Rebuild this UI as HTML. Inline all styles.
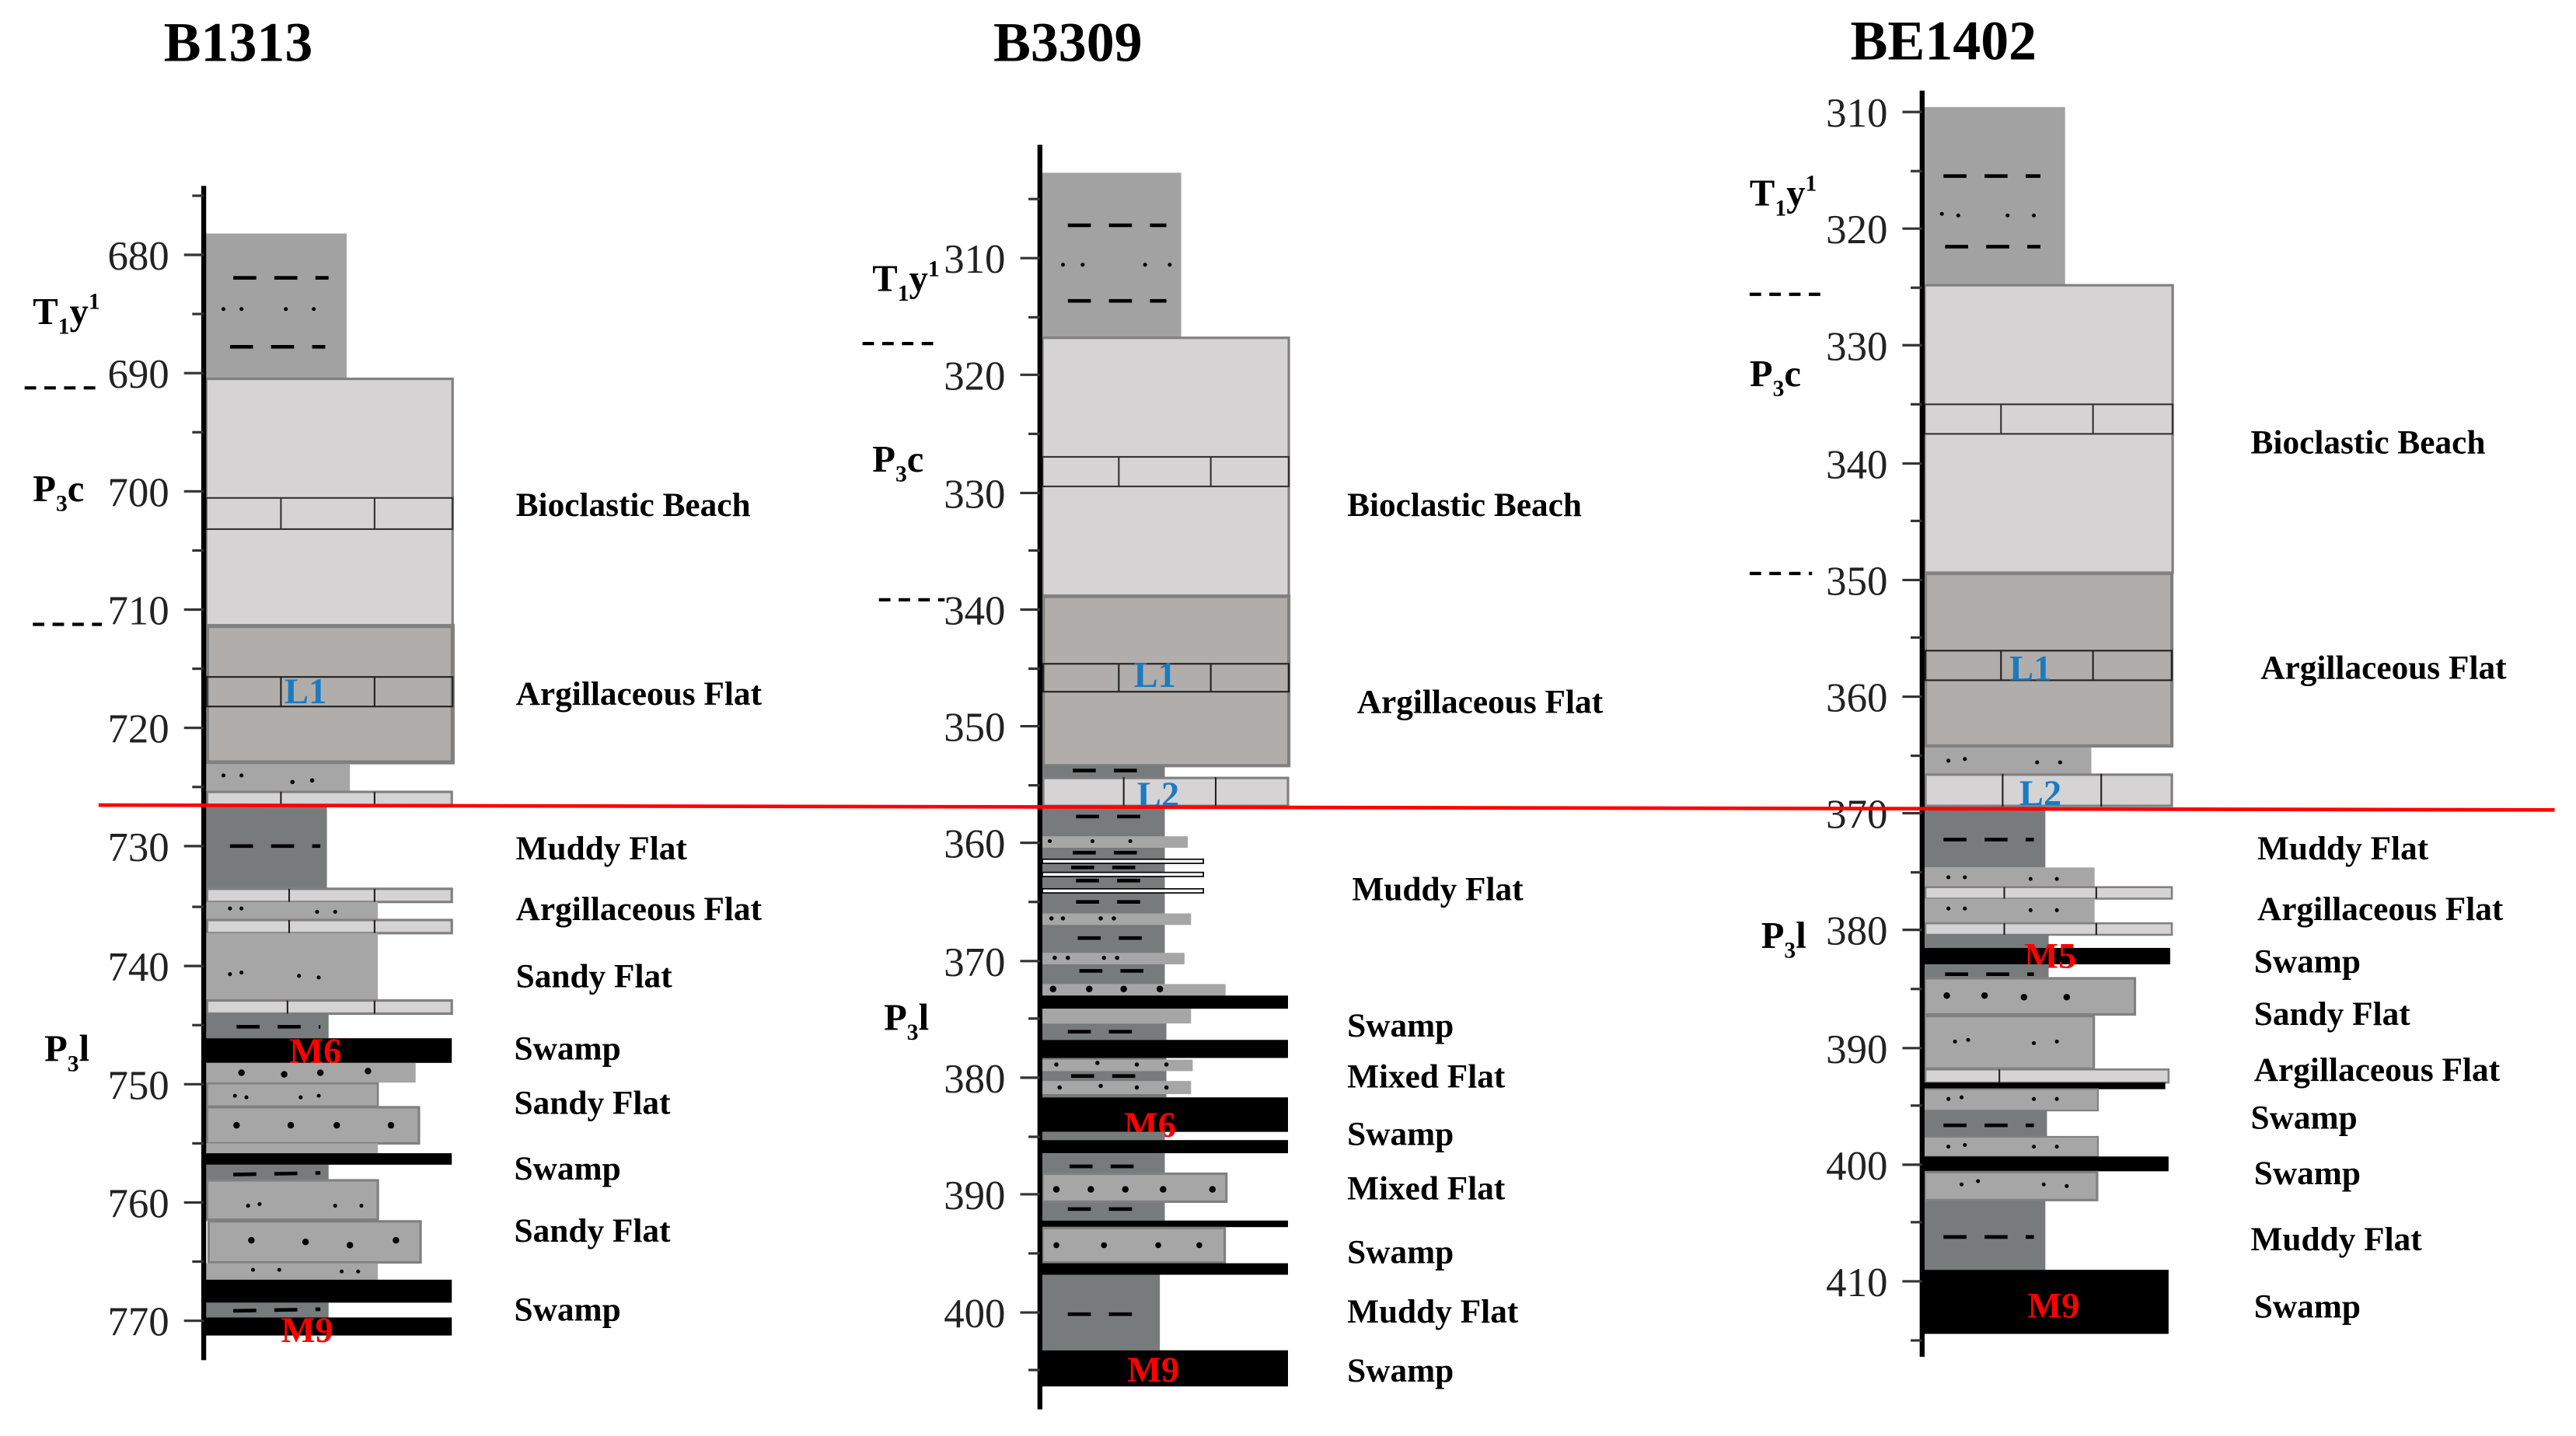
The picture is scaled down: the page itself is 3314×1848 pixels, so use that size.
<!DOCTYPE html>
<html><head><meta charset="utf-8"><style>
html,body{margin:0;padding:0;background:#fff;}
svg{display:block;}
.t{font-family:"Liberation Serif",serif;font-weight:bold;font-size:34px;fill:#000;}
.n{font-family:"Liberation Serif",serif;font-size:25px;fill:#222;text-anchor:end;}
.l{font-family:"Liberation Serif",serif;font-weight:bold;font-size:20.5px;fill:#000;}
.f{font-family:"Liberation Serif",serif;font-weight:bold;font-size:23px;fill:#000;}
.b{font-family:"Liberation Serif",serif;font-weight:bold;font-size:22px;fill:#1a7bc0;}
.r{font-family:"Liberation Serif",serif;font-weight:bold;font-size:22px;fill:#f00;}
.d{stroke:#000;stroke-width:2.2;stroke-dasharray:14 11;}
.fd{stroke:#000;stroke-width:2;stroke-dasharray:7 5;}
.tk{stroke:#333;stroke-width:1.5;}
</style></head><body>
<svg width="3314" height="1848" viewBox="0 0 1568 874" xmlns="http://www.w3.org/2000/svg">
<!-- ============ B1313 ============ -->
<text class="t" x="145" y="37" text-anchor="middle">B1313</text>
<g>
<rect x="125" y="142" width="86" height="88" fill="#a2a2a2"/>
<line class="d" x1="142" y1="169" x2="200" y2="169"/><line class="d" x1="140" y1="211" x2="198" y2="211"/>
<g fill="#000"><circle cx="136" cy="188" r="1.2"/><circle cx="147" cy="188" r="1.2"/><circle cx="174" cy="188" r="1.2"/><circle cx="191" cy="188" r="1.2"/></g>
<rect x="125.5" y="230.5" width="150" height="150" fill="#d5d3d4" stroke="#808080" stroke-width="1.5"/>
<rect x="125.5" y="303" width="150" height="19" fill="none" stroke="#333" stroke-width="1"/>
<line x1="171" y1="303" x2="171" y2="322" stroke="#333"/><line x1="228" y1="303" x2="228" y2="322" stroke="#333"/>
<rect x="126" y="381" width="149.5" height="83" fill="#b1adaa" stroke="#808080" stroke-width="2.5"/>
<rect x="126" y="412" width="149.5" height="18" fill="none" stroke="#222" stroke-width="1"/>
<line x1="171" y1="412" x2="171" y2="430" stroke="#222"/><line x1="228" y1="412" x2="228" y2="430" stroke="#222"/>
<text class="b" x="186" y="428" text-anchor="middle">L1</text>
<rect x="125" y="465" width="88" height="17" fill="#a6a6a6"/>
<g fill="#000"><circle cx="136" cy="472" r="1.2"/><circle cx="147" cy="472" r="1.2"/><circle cx="178" cy="476" r="1.3"/><circle cx="190" cy="475" r="1.3"/></g>
<rect x="126" y="482" width="149" height="8" fill="#d5d3d4" stroke="#808080" stroke-width="1.5"/>
<line x1="171" y1="482" x2="171" y2="490" stroke="#222"/><line x1="228" y1="482" x2="228" y2="490" stroke="#222"/>
<rect x="125" y="490" width="74" height="51" fill="#777b7b"/>
<line class="d" x1="140" y1="515" x2="195" y2="515"/>
<rect x="126" y="541" width="149" height="8" fill="#d5d3d4" stroke="#808080" stroke-width="1.5"/>
<line x1="176" y1="541" x2="176" y2="549" stroke="#222"/><line x1="228" y1="541" x2="228" y2="549" stroke="#222"/>
<rect x="125" y="549" width="105" height="11" fill="#a6a6a6"/>
<g fill="#000"><circle cx="140" cy="553" r="1.2"/><circle cx="147" cy="553" r="1.2"/><circle cx="193" cy="555" r="1.2"/><circle cx="204" cy="555" r="1.2"/></g>
<rect x="126" y="560" width="149" height="8" fill="#d5d3d4" stroke="#808080" stroke-width="1.5"/>
<line x1="176" y1="560" x2="176" y2="568" stroke="#222"/><line x1="228" y1="560" x2="228" y2="568" stroke="#222"/>
<rect x="125" y="568" width="105" height="41" fill="#a6a6a6"/>
<g fill="#000"><circle cx="140" cy="593" r="1.2"/><circle cx="147" cy="592" r="1.2"/><circle cx="182" cy="594" r="1.2"/><circle cx="194" cy="595" r="1.2"/></g>
<rect x="126" y="609" width="149" height="8" fill="#d5d3d4" stroke="#808080" stroke-width="1.5"/>
<line x1="175" y1="609" x2="175" y2="617" stroke="#222"/><line x1="228" y1="609" x2="228" y2="617" stroke="#222"/>
<rect x="125" y="617" width="75" height="15" fill="#777b7b"/>
<line class="d" x1="144" y1="625" x2="195" y2="625"/>
<rect x="125" y="632" width="150" height="15" fill="#000"/>
<text class="r" x="192" y="647" text-anchor="middle">M6</text>
<rect x="125" y="647" width="128" height="12" fill="#a6a6a6"/>
<g fill="#000"><circle cx="147" cy="653" r="2"/><circle cx="173" cy="654" r="2"/><circle cx="195" cy="653" r="2"/><circle cx="224" cy="652" r="2"/></g>
<rect x="126" y="659.5" width="104" height="14" fill="#a6a6a6" stroke="#808080" stroke-width="1.2"/>
<g fill="#000"><circle cx="143" cy="667" r="1.2"/><circle cx="150" cy="668" r="1.2"/><circle cx="183" cy="668" r="1.2"/><circle cx="194" cy="667" r="1.2"/></g>
<rect x="126" y="674" width="129" height="22" fill="#a6a6a6" stroke="#808080" stroke-width="1.5"/>
<g fill="#000"><circle cx="144" cy="685" r="2"/><circle cx="177" cy="685" r="2"/><circle cx="205" cy="685" r="2"/><circle cx="238" cy="685" r="2"/></g>
<rect x="125" y="696" width="105" height="6" fill="#a6a6a6"/>
<rect x="125" y="702" width="150" height="7" fill="#000"/>
<rect x="125" y="709" width="75" height="9" fill="#777b7b"/>
<line class="d" x1="142" y1="715" x2="195" y2="714"/>
<rect x="126" y="718.5" width="104" height="24" fill="#a6a6a6" stroke="#808080" stroke-width="1.5"/>
<g fill="#000"><circle cx="151" cy="734" r="1.2"/><circle cx="158" cy="733" r="1.2"/><circle cx="204" cy="734" r="1.2"/><circle cx="220" cy="734" r="1.2"/></g>
<rect x="127" y="743.5" width="129" height="25" fill="#a6a6a6" stroke="#808080" stroke-width="1.5"/>
<g fill="#000"><circle cx="153" cy="755" r="2"/><circle cx="186" cy="756" r="2"/><circle cx="213" cy="758" r="2"/><circle cx="241" cy="755" r="2"/></g>
<rect x="125" y="769" width="105" height="10" fill="#a6a6a6"/>
<g fill="#000"><circle cx="154" cy="773" r="1.2"/><circle cx="170" cy="773" r="1.2"/><circle cx="208" cy="774" r="1.2"/><circle cx="218" cy="774" r="1.2"/></g>
<rect x="125" y="779" width="150" height="14" fill="#000"/>
<rect x="125" y="793" width="75" height="9" fill="#777b7b"/>
<line class="d" x1="142" y1="798" x2="195" y2="797"/>
<rect x="125" y="802" width="150" height="11" fill="#000"/>
<text class="r" x="187" y="817" text-anchor="middle">M9</text>
</g>
<line x1="124" y1="113" x2="124" y2="828" stroke="#000" stroke-width="3"/>
<g class="tk">
<line x1="112" y1="155" x2="124" y2="155"/><line x1="112" y1="227" x2="124" y2="227"/><line x1="112" y1="299" x2="124" y2="299"/><line x1="112" y1="371" x2="124" y2="371"/><line x1="112" y1="443" x2="124" y2="443"/><line x1="112" y1="515" x2="124" y2="515"/><line x1="112" y1="588" x2="124" y2="588"/><line x1="112" y1="660" x2="124" y2="660"/><line x1="112" y1="732" x2="124" y2="732"/><line x1="112" y1="804" x2="124" y2="804"/>
<line x1="117" y1="119" x2="124" y2="119"/><line x1="117" y1="191" x2="124" y2="191"/><line x1="117" y1="263" x2="124" y2="263"/><line x1="117" y1="335" x2="124" y2="335"/><line x1="117" y1="407" x2="124" y2="407"/><line x1="117" y1="479" x2="124" y2="479"/><line x1="117" y1="552" x2="124" y2="552"/><line x1="117" y1="624" x2="124" y2="624"/><line x1="117" y1="696" x2="124" y2="696"/><line x1="117" y1="768" x2="124" y2="768"/>
</g>
<g class="n">
<text x="103" y="164">680</text><text x="103" y="236">690</text><text x="103" y="308">700</text><text x="103" y="380">710</text><text x="103" y="452">720</text><text x="103" y="524">730</text><text x="103" y="597">740</text><text x="103" y="669">750</text><text x="103" y="741">760</text><text x="103" y="813">770</text>
</g>
<text class="f" x="20" y="197">T<tspan font-size="14" dy="6">1</tspan><tspan dy="-6">y</tspan><tspan font-size="14" dy="-9">1</tspan></text>
<line class="fd" x1="15" y1="236" x2="58" y2="236"/>
<text class="f" x="20" y="305">P<tspan font-size="14" dy="6">3</tspan><tspan dy="-6">c</tspan></text>
<line class="fd" x1="20" y1="380" x2="62" y2="380"/>
<text class="f" x="27" y="646">P<tspan font-size="14" dy="6">3</tspan><tspan dy="-6">l</tspan></text>
<g class="l">
<text x="314" y="314">Bioclastic Beach</text><text x="314" y="429">Argillaceous Flat</text><text x="314" y="523">Muddy Flat</text><text x="314" y="560">Argillaceous Flat</text><text x="314" y="601">Sandy Flat</text><text x="313" y="645">Swamp</text><text x="313" y="678">Sandy Flat</text><text x="313" y="718">Swamp</text><text x="313" y="756">Sandy Flat</text><text x="313" y="804">Swamp</text>
</g>

<!-- ============ B3309 ============ -->
<text class="t" x="650" y="37" text-anchor="middle">B3309</text>
<g>
<rect x="634" y="105" width="85" height="100" fill="#a2a2a2"/>
<line class="d" x1="650" y1="137" x2="710" y2="137"/><line class="d" x1="650" y1="183" x2="710" y2="183"/>
<g fill="#000"><circle cx="647" cy="161" r="1.2"/><circle cx="659" cy="161" r="1.2"/><circle cx="697" cy="161" r="1.2"/><circle cx="712" cy="161" r="1.2"/></g>
<rect x="634.5" y="205.5" width="150" height="157" fill="#d5d3d4" stroke="#808080" stroke-width="1.5"/>
<rect x="634.5" y="278" width="150" height="18" fill="none" stroke="#333" stroke-width="1"/>
<line x1="681" y1="278" x2="681" y2="296" stroke="#333"/><line x1="737" y1="278" x2="737" y2="296" stroke="#333"/>
<rect x="635" y="363" width="149.5" height="103" fill="#b1adaa" stroke="#808080" stroke-width="2"/>
<rect x="635" y="404" width="149.5" height="17" fill="none" stroke="#222" stroke-width="1"/>
<line x1="681" y1="404" x2="681" y2="421" stroke="#222"/><line x1="737" y1="404" x2="737" y2="421" stroke="#222"/>
<text class="b" x="703" y="418" text-anchor="middle">L1</text>
<rect x="634" y="466" width="75" height="7" fill="#777b7b"/>
<line class="d" x1="653" y1="469" x2="700" y2="469"/>
<rect x="635" y="473.5" width="149" height="17" fill="#d5d3d4" stroke="#808080" stroke-width="1.5"/>
<line x1="684" y1="473" x2="684" y2="491" stroke="#222"/><line x1="740" y1="473" x2="740" y2="491" stroke="#222"/>
<text class="b" x="705" y="491" text-anchor="middle">L2</text>
<rect x="634" y="491" width="75" height="123" fill="#777b7b"/>
<line class="d" x1="655" y1="497" x2="700" y2="497"/>
<rect x="634" y="509" width="89" height="7" fill="#a6a6a6"/>
<line class="d" x1="653" y1="519" x2="700" y2="519"/>
<rect x="634.5" y="523" width="98" height="2.5" fill="#fff" stroke="#000" stroke-width="0.8"/>
<line class="d" x1="652" y1="528" x2="700" y2="528"/>
<rect x="634.5" y="531" width="98" height="2.5" fill="#fff" stroke="#000" stroke-width="0.8"/>
<line class="d" x1="655" y1="536" x2="700" y2="536"/>
<rect x="634.5" y="541" width="98" height="2.5" fill="#fff" stroke="#000" stroke-width="0.8"/>
<line class="d" x1="655" y1="549" x2="700" y2="549"/>
<rect x="634" y="556" width="91" height="7" fill="#a6a6a6"/>
<line class="d" x1="656" y1="571" x2="700" y2="571"/>
<rect x="634" y="580" width="87" height="7" fill="#a6a6a6"/>
<line class="d" x1="657" y1="591" x2="700" y2="591"/>
<rect x="634" y="599" width="112" height="7" fill="#a6a6a6"/>
<g fill="#000"><circle cx="640" cy="559" r="1.3"/><circle cx="647" cy="559" r="1.3"/><circle cx="670" cy="559" r="1.3"/><circle cx="678" cy="559" r="1.3"/><circle cx="642" cy="583" r="1.3"/><circle cx="650" cy="583" r="1.3"/><circle cx="672" cy="583" r="1.3"/><circle cx="680" cy="583" r="1.3"/><circle cx="641" cy="602" r="2"/><circle cx="663" cy="602" r="2"/><circle cx="684" cy="602" r="2"/><circle cx="706" cy="602" r="2"/><circle cx="639" cy="512" r="1.2"/><circle cx="665" cy="512" r="1.2"/><circle cx="688" cy="512" r="1.2"/></g>
<rect x="634" y="606" width="150" height="8" fill="#000"/>
<rect x="634" y="614" width="91" height="9" fill="#a6a6a6"/>
<rect x="634" y="623" width="76" height="10" fill="#777b7b"/>
<line class="d" x1="650" y1="628" x2="700" y2="628"/>
<rect x="634" y="633" width="150" height="11" fill="#000"/>
<rect x="634" y="644" width="76" height="24" fill="#777b7b"/>
<rect x="634" y="645" width="92" height="7" fill="#a6a6a6"/>
<line class="d" x1="652" y1="655" x2="702" y2="655"/>
<rect x="634" y="658" width="91" height="8" fill="#a6a6a6"/>
<g fill="#000"><circle cx="643" cy="648" r="1.3"/><circle cx="668" cy="647" r="1.3"/><circle cx="692" cy="648" r="1.3"/><circle cx="710" cy="648" r="1.3"/><circle cx="645" cy="662" r="1.3"/><circle cx="670" cy="661" r="1.3"/><circle cx="692" cy="662" r="1.3"/><circle cx="710" cy="662" r="1.3"/></g>
<rect x="634" y="668" width="150" height="21" fill="#000"/>
<text class="r" x="700" y="692" text-anchor="middle">M6</text>
<rect x="634" y="689" width="75" height="5" fill="#777b7b"/>
<rect x="634" y="694" width="150" height="8" fill="#000"/>
<rect x="634" y="702" width="75" height="12" fill="#777b7b"/>
<line class="d" x1="651" y1="710" x2="700" y2="710"/>
<rect x="634.5" y="714.5" width="112" height="17" fill="#a6a6a6" stroke="#808080" stroke-width="1.5"/>
<g fill="#000"><circle cx="643" cy="724" r="2"/><circle cx="664" cy="724" r="2"/><circle cx="685" cy="724" r="2"/><circle cx="708" cy="724" r="2"/><circle cx="738" cy="724" r="2"/></g>
<rect x="634" y="732" width="75" height="11" fill="#777b7b"/>
<line class="d" x1="650" y1="736" x2="700" y2="736"/>
<rect x="634" y="743" width="150" height="4" fill="#000"/>
<rect x="634.5" y="747.5" width="111" height="21" fill="#a6a6a6" stroke="#808080" stroke-width="1.5"/>
<g fill="#000"><circle cx="643" cy="758" r="1.8"/><circle cx="672" cy="758" r="1.8"/><circle cx="705" cy="758" r="1.8"/><circle cx="730" cy="758" r="1.8"/></g>
<rect x="634" y="769" width="150" height="7" fill="#000"/>
<rect x="634" y="776" width="72" height="46" fill="#777b7b"/>
<line class="d" x1="650" y1="800" x2="698" y2="800"/>
<rect x="634" y="822" width="150" height="22" fill="#000"/>
<text class="r" x="702" y="841" text-anchor="middle">M9</text>
</g>
<line x1="633" y1="88" x2="633" y2="858" stroke="#000" stroke-width="3"/>
<g class="tk">
<line x1="621" y1="157" x2="633" y2="157"/><line x1="621" y1="228" x2="633" y2="228"/><line x1="621" y1="300" x2="633" y2="300"/><line x1="621" y1="371" x2="633" y2="371"/><line x1="621" y1="442" x2="633" y2="442"/><line x1="621" y1="513" x2="633" y2="513"/><line x1="621" y1="585" x2="633" y2="585"/><line x1="621" y1="656" x2="633" y2="656"/><line x1="621" y1="727" x2="633" y2="727"/><line x1="621" y1="799" x2="633" y2="799"/>
<line x1="626" y1="121" x2="633" y2="121"/><line x1="626" y1="193" x2="633" y2="193"/><line x1="626" y1="264" x2="633" y2="264"/><line x1="626" y1="335" x2="633" y2="335"/><line x1="626" y1="407" x2="633" y2="407"/><line x1="626" y1="478" x2="633" y2="478"/><line x1="626" y1="549" x2="633" y2="549"/><line x1="626" y1="620" x2="633" y2="620"/><line x1="626" y1="692" x2="633" y2="692"/><line x1="626" y1="763" x2="633" y2="763"/><line x1="626" y1="834" x2="633" y2="834"/>
</g>
<g class="n">
<text x="612" y="166">310</text><text x="612" y="237">320</text><text x="612" y="309">330</text><text x="612" y="380">340</text><text x="612" y="451">350</text><text x="612" y="522">360</text><text x="612" y="594">370</text><text x="612" y="665">380</text><text x="612" y="736">390</text><text x="612" y="808">400</text>
</g>
<text class="f" x="531" y="177">T<tspan font-size="14" dy="6">1</tspan><tspan dy="-6">y</tspan><tspan font-size="14" dy="-9">1</tspan></text>
<line class="fd" x1="525" y1="209" x2="568" y2="209"/>
<text class="f" x="531" y="287">P<tspan font-size="14" dy="6">3</tspan><tspan dy="-6">c</tspan></text>
<line class="fd" x1="535" y1="365" x2="575" y2="365"/>
<text class="f" x="538" y="627">P<tspan font-size="14" dy="6">3</tspan><tspan dy="-6">l</tspan></text>
<g class="l">
<text x="820" y="314">Bioclastic Beach</text><text x="826" y="434">Argillaceous Flat</text><text x="823" y="548">Muddy Flat</text><text x="820" y="631">Swamp</text><text x="820" y="662">Mixed Flat</text><text x="820" y="697">Swamp</text><text x="820" y="730">Mixed Flat</text><text x="820" y="769">Swamp</text><text x="820" y="805">Muddy Flat</text><text x="820" y="841">Swamp</text>
</g>

<!-- ============ BE1402 ============ -->
<text class="t" x="1183" y="36" text-anchor="middle">BE1402</text>
<g>
<rect x="1171" y="65" width="86" height="108" fill="#a2a2a2"/>
<line class="d" x1="1183" y1="107" x2="1242" y2="107"/><line class="d" x1="1184" y1="150" x2="1242" y2="150"/>
<g fill="#000"><circle cx="1182" cy="130" r="1.2"/><circle cx="1192" cy="131" r="1.2"/><circle cx="1222" cy="131" r="1.2"/><circle cx="1238" cy="131" r="1.2"/></g>
<rect x="1171.5" y="173.5" width="151" height="175" fill="#d5d3d4" stroke="#808080" stroke-width="1.5"/>
<rect x="1171.5" y="246" width="151" height="18" fill="none" stroke="#333" stroke-width="1"/>
<line x1="1218" y1="246" x2="1218" y2="264" stroke="#333"/><line x1="1274" y1="246" x2="1274" y2="264" stroke="#333"/>
<rect x="1172" y="349" width="150" height="105" fill="#b1adaa" stroke="#808080" stroke-width="2"/>
<rect x="1172" y="396" width="150" height="18" fill="none" stroke="#222" stroke-width="1"/>
<line x1="1218" y1="396" x2="1218" y2="414" stroke="#222"/><line x1="1274" y1="396" x2="1274" y2="414" stroke="#222"/>
<text class="b" x="1236" y="414" text-anchor="middle">L1</text>
<rect x="1171" y="455" width="102" height="16" fill="#a6a6a6"/>
<g fill="#000"><circle cx="1186" cy="463" r="1.2"/><circle cx="1196" cy="462" r="1.2"/><circle cx="1240" cy="464" r="1.2"/><circle cx="1254" cy="464" r="1.2"/></g>
<rect x="1172" y="471.5" width="150" height="19" fill="#d5d3d4" stroke="#808080" stroke-width="1.5"/>
<line x1="1219" y1="471" x2="1219" y2="491" stroke="#222"/><line x1="1279" y1="471" x2="1279" y2="491" stroke="#222"/>
<text class="b" x="1242" y="490" text-anchor="middle">L2</text>
<rect x="1171" y="491" width="74" height="37" fill="#777b7b"/>
<line class="d" x1="1183" y1="511" x2="1238" y2="511"/>
<rect x="1171" y="528" width="104" height="12" fill="#a6a6a6"/>
<g fill="#000"><circle cx="1186" cy="534" r="1.2"/><circle cx="1196" cy="534" r="1.2"/><circle cx="1236" cy="535" r="1.2"/><circle cx="1252" cy="535" r="1.2"/></g>
<rect x="1172" y="540" width="150" height="7" fill="#d5d3d4" stroke="#808080" stroke-width="1.2"/>
<line x1="1220" y1="540" x2="1220" y2="547" stroke="#222"/><line x1="1276" y1="540" x2="1276" y2="547" stroke="#222"/>
<rect x="1171" y="547" width="104" height="15" fill="#a6a6a6"/>
<g fill="#000"><circle cx="1186" cy="553" r="1.2"/><circle cx="1196" cy="553" r="1.2"/><circle cx="1236" cy="554" r="1.2"/><circle cx="1252" cy="554" r="1.2"/></g>
<rect x="1172" y="562" width="150" height="7" fill="#d5d3d4" stroke="#808080" stroke-width="1.2"/>
<line x1="1220" y1="562" x2="1220" y2="569" stroke="#222"/><line x1="1276" y1="562" x2="1276" y2="569" stroke="#222"/>
<rect x="1171" y="569" width="76" height="8" fill="#777b7b"/>
<rect x="1171" y="577" width="150" height="10" fill="#000"/>
<text class="r" x="1248" y="589" text-anchor="middle">M5</text>
<rect x="1171" y="587" width="76" height="8" fill="#777b7b"/>
<line class="d" x1="1184" y1="593" x2="1238" y2="593"/>
<rect x="1171.5" y="595.5" width="128" height="22" fill="#a6a6a6" stroke="#808080" stroke-width="1.5"/>
<g fill="#000"><circle cx="1185" cy="606" r="2"/><circle cx="1208" cy="606" r="2"/><circle cx="1232" cy="607" r="2"/><circle cx="1258" cy="607" r="2"/></g>
<rect x="1171.5" y="618.5" width="103" height="32" fill="#a6a6a6" stroke="#808080" stroke-width="1.5"/>
<g fill="#000"><circle cx="1190" cy="634" r="1.2"/><circle cx="1198" cy="633" r="1.2"/><circle cx="1238" cy="635" r="1.2"/><circle cx="1252" cy="634" r="1.2"/></g>
<rect x="1172" y="651" width="148" height="8" fill="#d5d3d4" stroke="#808080" stroke-width="1.2"/>
<line x1="1217" y1="651" x2="1217" y2="659" stroke="#222"/>
<rect x="1171" y="659" width="147" height="4" fill="#000"/>
<rect x="1171" y="663" width="106" height="13" fill="#a6a6a6" stroke="#808080" stroke-width="1"/>
<g fill="#000"><circle cx="1186" cy="669" r="1.2"/><circle cx="1194" cy="668" r="1.2"/><circle cx="1238" cy="669" r="1.2"/><circle cx="1252" cy="669" r="1.2"/></g>
<rect x="1171" y="676" width="75" height="16" fill="#777b7b"/>
<line class="d" x1="1183" y1="685" x2="1238" y2="685"/>
<rect x="1171" y="692" width="106" height="12" fill="#a6a6a6" stroke="#808080" stroke-width="1"/>
<g fill="#000"><circle cx="1186" cy="698" r="1.2"/><circle cx="1196" cy="697" r="1.2"/><circle cx="1238" cy="698" r="1.2"/><circle cx="1252" cy="698" r="1.2"/></g>
<rect x="1171" y="704" width="149" height="9" fill="#000"/>
<rect x="1171.5" y="713.5" width="105" height="17" fill="#a6a6a6" stroke="#808080" stroke-width="1.5"/>
<g fill="#000"><circle cx="1194" cy="721" r="1.2"/><circle cx="1204" cy="719" r="1.2"/><circle cx="1244" cy="721" r="1.2"/><circle cx="1258" cy="722" r="1.2"/></g>
<rect x="1171" y="731" width="74" height="42" fill="#777b7b"/>
<line class="d" x1="1183" y1="753" x2="1238" y2="753"/>
<rect x="1171" y="773" width="149" height="39" fill="#000"/>
<text class="r" x="1250" y="802" text-anchor="middle">M9</text>
</g>
<line x1="1170" y1="55" x2="1170" y2="826" stroke="#000" stroke-width="3"/>
<g class="tk">
<line x1="1158" y1="68" x2="1170" y2="68"/><line x1="1158" y1="139" x2="1170" y2="139"/><line x1="1158" y1="210" x2="1170" y2="210"/><line x1="1158" y1="282" x2="1170" y2="282"/><line x1="1158" y1="353" x2="1170" y2="353"/><line x1="1158" y1="424" x2="1170" y2="424"/><line x1="1158" y1="495" x2="1170" y2="495"/><line x1="1158" y1="566" x2="1170" y2="566"/><line x1="1158" y1="638" x2="1170" y2="638"/><line x1="1158" y1="709" x2="1170" y2="709"/><line x1="1158" y1="780" x2="1170" y2="780"/>
<line x1="1163" y1="104" x2="1170" y2="104"/><line x1="1163" y1="175" x2="1170" y2="175"/><line x1="1163" y1="246" x2="1170" y2="246"/><line x1="1163" y1="317" x2="1170" y2="317"/><line x1="1163" y1="388" x2="1170" y2="388"/><line x1="1163" y1="460" x2="1170" y2="460"/><line x1="1163" y1="531" x2="1170" y2="531"/><line x1="1163" y1="602" x2="1170" y2="602"/><line x1="1163" y1="673" x2="1170" y2="673"/><line x1="1163" y1="744" x2="1170" y2="744"/><line x1="1163" y1="816" x2="1170" y2="816"/>
</g>
<g class="n">
<text x="1149" y="77">310</text><text x="1149" y="148">320</text><text x="1149" y="219">330</text><text x="1149" y="291">340</text><text x="1149" y="362">350</text><text x="1149" y="433">360</text><text x="1149" y="504">370</text><text x="1149" y="575">380</text><text x="1149" y="647">390</text><text x="1149" y="718">400</text><text x="1149" y="789">410</text>
</g>
<text class="f" x="1065" y="125">T<tspan font-size="14" dy="6">1</tspan><tspan dy="-6">y</tspan><tspan font-size="14" dy="-9">1</tspan></text>
<line class="fd" x1="1065" y1="179" x2="1108" y2="179"/>
<text class="f" x="1065" y="235">P<tspan font-size="14" dy="6">3</tspan><tspan dy="-6">c</tspan></text>
<line class="fd" x1="1065" y1="349" x2="1103" y2="349"/>
<text class="f" x="1072" y="577">P<tspan font-size="14" dy="6">3</tspan><tspan dy="-6">l</tspan></text>
<g class="l">
<text x="1370" y="276">Bioclastic Beach</text><text x="1376" y="413">Argillaceous Flat</text><text x="1374" y="523">Muddy Flat</text><text x="1374" y="560">Argillaceous Flat</text><text x="1372" y="592">Swamp</text><text x="1372" y="624">Sandy Flat</text><text x="1372" y="658">Argillaceous Flat</text><text x="1370" y="687">Swamp</text><text x="1372" y="721">Swamp</text><text x="1370" y="761">Muddy Flat</text><text x="1372" y="802">Swamp</text>
</g>

<!-- red correlation line -->
<line x1="60" y1="490" x2="1555" y2="493" stroke="#f00" stroke-width="2.2"/>
</svg>
</body></html>
